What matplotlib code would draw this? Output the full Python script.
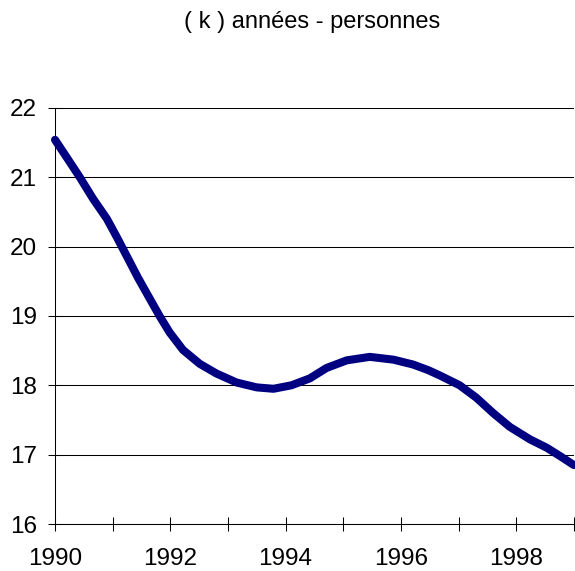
import matplotlib.pyplot as plt

# Values (decimal years)
years = [1990.00, 1990.20, 1990.43, 1990.66, 1990.90, 1991.07, 1991.24,
         1991.44, 1991.65, 1991.82, 1991.99, 1992.22, 1992.51, 1992.80,
         1993.15, 1993.50, 1993.79, 1994.10, 1994.42, 1994.71, 1995.06,
         1995.46, 1995.87, 1996.21, 1996.47, 1996.68, 1997.02, 1997.31,
         1997.60, 1997.89, 1998.24, 1998.53, 1998.76, 1999.00]
values = [21.54, 21.29, 21.00, 20.69, 20.40, 20.14, 19.87,
          19.55, 19.24, 18.99, 18.76, 18.51, 18.31, 18.17,
          18.04, 17.97, 17.95, 18.00, 18.10, 18.25, 18.36,
          18.41, 18.37, 18.30, 18.22, 18.14, 18.00, 17.82,
          17.60, 17.40, 17.22, 17.10, 16.98, 16.85]

x_ticks = list(range(1990, 2000))
x_labels = [str(y) if y % 2 == 0 else '' for y in x_ticks]
y_ticks = [16, 17, 18, 19, 20, 21, 22]

plt.rcParams['font.family'] = ['Liberation Sans', 'DejaVu Sans']

fig = plt.figure(figsize=(5.75, 5.71), dpi=100)
ax = fig.add_axes([0.0957, 0.0823, 0.9023, 0.7287])

ax.plot(years, values, color='#000080', linewidth=5.8,
        solid_capstyle='round', solid_joinstyle='round',
        clip_on=False, zorder=3)

ax.set_xlim(1990, 1999)
ax.set_ylim(16, 22)
ax.set_xticks(x_ticks)
ax.set_xticklabels(x_labels)
ax.set_yticks(y_ticks)

ax.grid(axis='y', color='black', linewidth=0.75)
ax.set_axisbelow(True)
for side in ['top', 'right']:
    ax.spines[side].set_visible(False)
for side in ['left', 'bottom']:
    ax.spines[side].set_linewidth(0.75)

ax.tick_params(direction='inout', length=10, width=0.75, labelsize=17.5)
ax.tick_params(axis='y', pad=8)
ax.tick_params(axis='x', pad=12)

fig.text(0.543, 0.961, '( k ) années - personnes', ha='center', va='center',
         fontsize=17)

plt.savefig('out.png', dpi=100)
